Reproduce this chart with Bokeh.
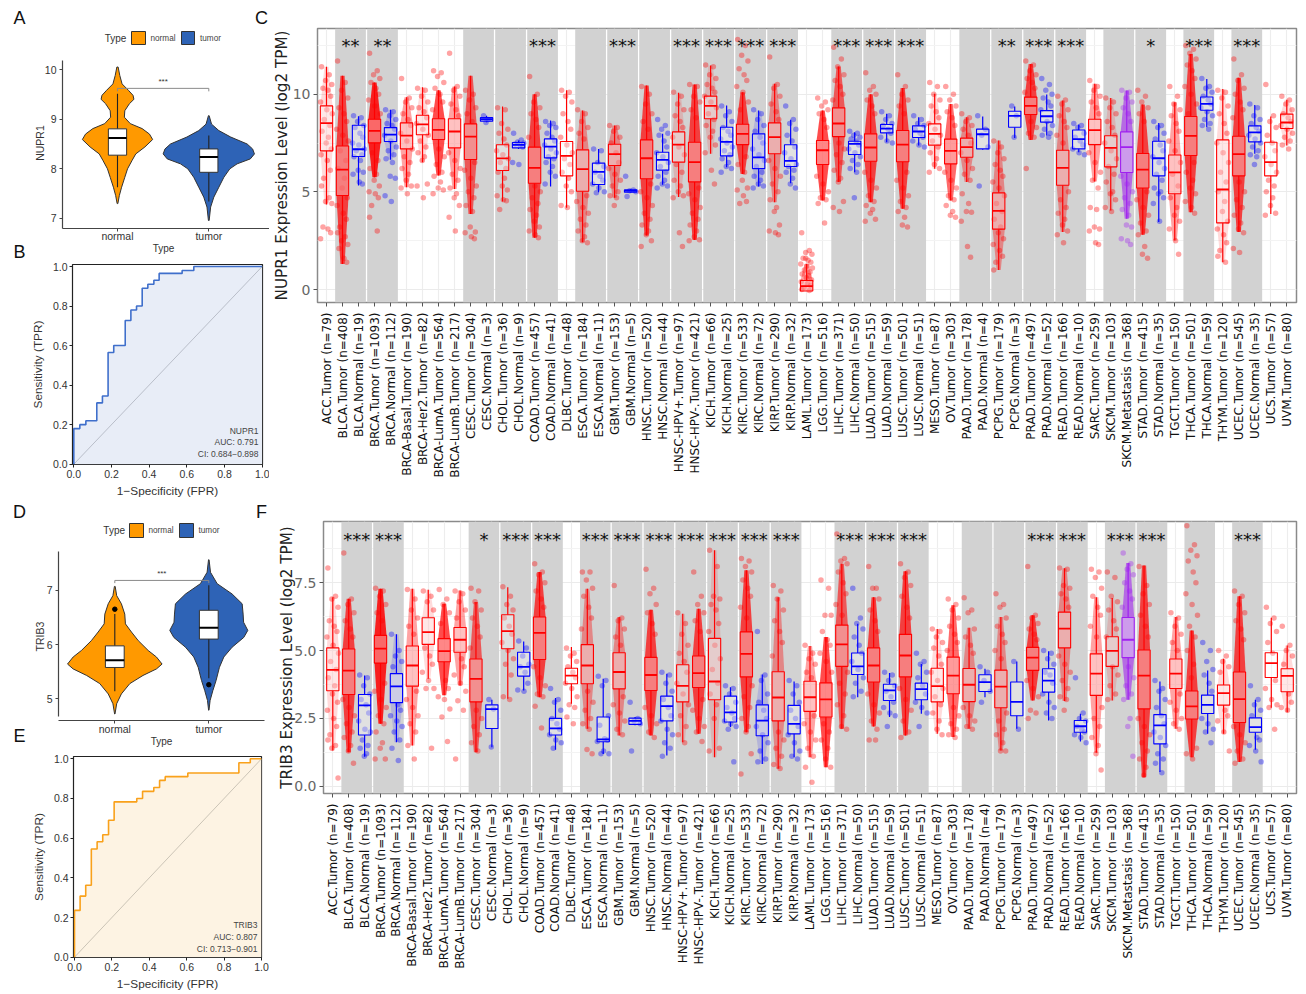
import math
from bokeh.plotting import figure
from bokeh.layouts import row, column
from bokeh.models import Range1d, FixedTicker, Label, PrintfTickFormatter
from bokeh.core.properties import value
from bokeh.embed import file_html
from bokeh.resources import INLINE

# ------------------------------------------------------------------ categories
names = ["ACC.Tumor","BLCA.Tumor","BLCA.Normal","BRCA.Tumor","BRCA.Normal","BRCA-Basal.Tumor","BRCA-Her2.Tumor","BRCA-LumA.Tumor","BRCA-LumB.Tumor","CESC.Tumor","CESC.Normal","CHOL.Tumor","CHOL.Normal","COAD.Tumor","COAD.Normal","DLBC.Tumor","ESCA.Tumor","ESCA.Normal","GBM.Tumor","GBM.Normal","HNSC.Tumor","HNSC.Normal","HNSC-HPV+.Tumor","HNSC-HPV-.Tumor","KICH.Tumor","KICH.Normal","KIRC.Tumor","KIRC.Normal","KIRP.Tumor","KIRP.Normal","LAML.Tumor","LGG.Tumor","LIHC.Tumor","LIHC.Normal","LUAD.Tumor","LUAD.Normal","LUSC.Tumor","LUSC.Normal","MESO.Tumor","OV.Tumor","PAAD.Tumor","PAAD.Normal","PCPG.Tumor","PCPG.Normal","PRAD.Tumor","PRAD.Normal","READ.Tumor","READ.Normal","SARC.Tumor","SKCM.Tumor","SKCM.Metastasis","STAD.Tumor","STAD.Normal","TGCT.Tumor","THCA.Tumor","THCA.Normal","THYM.Tumor","UCEC.Tumor","UCEC.Normal","UCS.Tumor","UVM.Tumor"]
counts = [79,408,19,1093,112,190,82,564,217,304,3,36,9,457,41,48,184,11,153,5,520,44,97,421,66,25,533,72,290,32,173,516,371,50,515,59,501,51,87,303,178,4,179,3,497,52,166,10,259,103,368,415,35,150,501,59,120,545,35,57,80]
band_starts = [1,3,9,11,13,16,18,20,22,24,26,28,32,34,36,40,42,44,46,49,51,54,57]

# ------------------------------------------------------------------ panel C: NUPR1
c_q1  = [7.10,4.81,6.81,7.51,7.58,7.20,7.92,7.68,7.25,6.66,8.62,6.09,7.25,5.44,6.74,5.82,5.03,5.38,6.35,4.98,5.67,6.11,6.52,5.51,8.74,6.84,7.42,6.19,6.95,6.30,-0.08,6.40,7.83,6.91,6.57,8.02,6.54,7.78,7.39,6.43,6.77,7.20,3.09,8.31,8.96,8.57,5.34,7.20,7.42,6.28,5.99,5.20,5.82,4.90,6.86,9.18,3.41,5.82,7.56,5.82,8.24]
c_med = [8.52,6.14,7.18,8.12,7.93,7.88,8.45,8.17,8.09,7.83,8.72,6.71,7.41,6.23,7.32,6.84,6.16,6.02,6.93,5.05,6.72,6.64,7.42,6.52,9.40,7.56,7.97,6.77,7.80,6.59,0.17,7.13,8.50,7.46,7.27,8.24,7.42,8.09,7.97,7.10,7.29,7.95,4.03,8.89,9.40,8.87,6.23,7.70,8.16,7.25,7.29,6.14,6.72,6.00,7.87,9.50,5.12,6.93,8.05,6.52,8.55]
c_q3  = [9.40,7.35,8.41,8.72,8.29,8.53,8.92,8.74,8.74,8.48,8.80,7.41,7.53,7.29,7.71,7.58,7.15,6.47,7.44,5.10,7.66,7.03,8.07,7.54,9.90,8.31,8.46,7.97,8.53,7.41,0.46,7.63,9.30,7.59,7.97,8.45,8.14,8.38,8.48,7.70,7.75,8.21,4.95,9.13,9.85,9.16,7.13,8.17,8.72,7.87,8.07,6.96,7.59,6.89,8.86,9.86,7.66,7.85,8.38,7.54,8.98]
c_lo  = [4.35,1.30,5.32,5.75,6.64,5.24,6.52,5.84,5.15,3.87,8.57,4.50,7.20,2.65,5.27,4.18,2.42,4.98,4.70,4.95,2.76,5.36,4.73,2.54,6.95,6.26,5.92,5.27,4.47,5.44,-0.08,4.56,5.50,6.00,4.47,7.54,4.13,7.37,6.18,4.56,5.50,7.15,1.00,7.76,7.66,7.88,2.94,7.03,5.53,4.04,3.62,2.80,3.45,2.51,3.96,8.31,1.40,2.94,6.95,3.87,7.37]
c_hi  = [11.4,10.95,8.87,10.6,9.20,9.85,10.36,10.2,10.4,10.95,8.90,9.37,7.63,10.0,8.65,10.2,9.16,7.20,8.40,5.15,10.44,7.97,10.07,10.5,11.47,9.42,10.1,9.16,10.53,8.69,1.31,9.16,11.42,8.05,10.0,9.00,10.32,8.82,10.02,9.50,8.82,8.86,7.63,9.37,11.55,9.98,9.68,8.45,10.53,9.81,10.19,9.47,8.53,9.59,12.06,10.78,10.27,10.84,9.45,8.86,9.71]
c_stars = {1:"**",3:"**",13:"***",18:"***",22:"***",24:"***",26:"***",28:"***",32:"***",34:"***",36:"***",42:"**",44:"***",46:"***",51:"*",54:"***",57:"***"}
c_points = [
[11.4,11.0,10.7,10.5,10.3,10.2,9.9,9.6,9.2,9.0,8.7,8.4,8.1,7.8,7.5,7.2,6.9,6.6,6.1,5.7,5.3,4.7,4.5,4.4,3.2,3.1,2.9,2.6],
[11.7,10.6,10.2,9.8,9.3,9.0,8.6,8.2,7.9,7.6,7.1,6.6,6.2,5.7,5.2,4.7,4.3,3.9,3.6,3.2,2.9,2.7,2.5,2.3,2.1,1.6,1.4],
[8.9,8.8,8.6,8.4,8.3,8.0,7.8,7.5,7.4,7.2,7.1,6.9,6.8,6.6,6.1,6.0,5.9,5.5,5.4],
[12.1,11.2,11.0,10.8,10.6,10.3,10.0,9.7,9.4,9.0,7.0,6.6,6.2,5.9,5.6,5.3,5.0,4.9,4.7,4.3,3.7,3.0],
[9.2,9.1,8.9,8.7,8.5,8.4,8.2,7.9,7.6,7.3,7.1,6.9,6.7,6.5,5.8,5.7,4.8,4.5],
[10.8,9.8,9.6,9.3,9.0,8.7,8.4,8.0,7.6,7.2,6.8,6.5,6.2,5.9,5.6,5.3,5.2,4.9],
[10.3,10.2,9.9,9.6,9.3,9.1,8.8,8.5,8.2,7.9,7.6,7.3,7.0,6.8,6.6,5.4,5.3,4.7],
[11.2,11.1,10.9,10.6,10.3,10.0,9.6,9.2,7.2,6.8,6.4,6.0,5.8,5.5,5.2,5.1,4.9],
[12.1,10.4,10.2,9.9,9.5,9.2,8.9,7.0,6.6,6.2,5.9,5.6,5.2,4.9,4.7,4.3,3.7,3.0],
[10.2,10.0,9.7,9.3,9.0,8.6,6.5,6.1,5.7,5.3,5.0,4.7,4.3,4.0,3.2,2.95,2.9,2.7,2.6],
[8.9,8.7,8.55],
[9.3,9.2,8.5,8.2,8.0,7.7,7.4,7.1,6.9,6.7,6.5,6.2,6.0,5.7,5.3,5.1,4.8,4.6,4.55,4.1],
[8.0,7.65,7.55,7.5,7.45,7.4,7.3,6.5,6.4],
[10.9,10.0,9.6,9.3,9.0,8.7,8.3,7.8,5.3,5.0,4.7,4.4,4.1,3.8,3.5,3.2,3.0,2.8,2.65],
[8.6,8.5,8.4,8.3,8.0,7.8,7.6,7.4,7.2,7.0,6.8,6.7,6.5,6.3,6.0,5.8,5.4],
[10.2,10.1,9.9,9.6,9.0,8.6,8.2,7.8,7.4,7.0,6.7,6.4,6.0,5.7,5.3,5.0,4.3,4.2],
[9.2,9.0,8.6,8.3,8.0,7.7,4.8,4.5,4.2,3.9,3.6,3.3,3.0,2.7,2.5,2.4],
[7.2,7.1,6.5,6.3,6.0,5.8,5.6,5.4,5.2,5.0,4.95],
[8.4,8.3,8.1,7.8,7.5,7.0,6.5,6.2,5.9,5.6,5.3,5.0,4.8,4.7,4.3],
[5.8,5.1,5.05,5.0,4.76],
[10.4,10.0,9.5,9.0,8.6,8.2,5.4,5.0,4.7,4.3,3.9,3.6,3.3,3.0,2.8,2.5,2.2],
[8.7,8.4,8.2,8.0,7.9,7.6,7.3,7.0,6.8,6.5,6.3,6.0,5.8,5.6,5.4,5.3,5.2],
[10.1,9.9,9.5,9.2,8.9,8.6,8.3,7.8,7.3,6.9,6.4,6.0,5.6,5.3,5.0,4.8,4.7,2.9,2.2],
[10.5,10.4,9.9,9.6,9.2,8.8,5.2,4.9,4.6,4.2,3.9,3.6,3.3,3.0,2.7,2.55,2.5],
[11.5,11.4,11.0,10.8,10.5,10.3,10.1,9.9,9.6,9.3,9.0,8.7,8.4,8.1,7.8,7.4,7.0,6.1,5.4],
[9.4,9.1,8.9,8.6,8.3,8.1,7.9,7.7,7.5,7.3,7.1,6.9,6.7,6.5,6.3,6.2,6.0],
[12.8,12.5,12.0,11.7,11.3,11.0,10.7,10.4,10.1,9.6,9.2,6.8,6.4,6.0,5.6,5.2,5.1,4.8,4.5,4.4],
[9.2,9.0,8.7,8.4,8.1,7.8,7.5,7.2,6.9,6.6,6.3,6.0,5.8,5.6,5.4,5.3,5.2],
[11.9,10.5,10.3,9.9,9.5,9.1,8.7,6.6,6.2,5.8,5.4,5.0,4.6,4.2,4.0,3.3,3.0,2.9,2.8],
[9.4,8.7,8.5,8.2,7.9,7.6,7.3,7.0,6.7,6.4,6.3,6.1,6.0,5.7,5.4,5.2],
[2.9,2.0,1.9,1.8,1.6,1.5,1.4,1.3,1.2,1.1,1.0,0.9,0.8,0.7,0.6,0.5,0.4,0.3,0.2,0.1,0.0,-0.05,1.6],
[9.8,9.6,9.4,9.2,9.0,8.7,8.3,5.8,5.4,5.0,4.7,4.6,4.4,3.4],
[12.4,11.8,11.4,11.0,10.7,10.4,10.0,9.7,7.5,7.2,6.9,6.5,6.1,5.7,5.5,4.5,4.2,4.0],
[8.1,8.0,7.9,7.8,7.7,7.6,7.4,7.2,7.0,6.8,6.6,6.4,6.2,6.0,4.7],
[11.1,10.4,10.2,10.0,9.7,9.4,9.0,6.0,5.6,5.2,4.8,4.5,4.3,4.1,3.9,3.6,3.5],
[9.1,8.9,8.7,8.5,8.4,8.2,8.0,7.8,7.6,7.5],
[11.0,10.4,10.0,9.7,9.4,9.0,6.0,5.6,5.2,4.8,4.5,4.2,4.0,3.7,3.3,3.2],
[8.9,8.7,8.5,8.4,8.2,8.0,7.8,7.6,7.4,7.3],
[10.6,10.4,10.0,9.7,9.4,9.1,8.8,8.5,8.2,7.9,7.6,7.3,7.0,6.7,6.4,6.2,6.0],
[10.4,10.0,9.7,9.4,9.1,8.8,8.4,6.0,5.6,5.2,4.8,4.6,4.3,4.0,3.8,3.7],
[9.0,8.8,8.6,8.4,8.2,7.9,7.5,7.0,6.6,6.2,5.9,5.6,4.9,4.4,4.0,3.95,3.5,2.2,1.65],
[8.9,8.2,7.9,7.3,5.3],
[7.6,7.3,7.0,6.7,6.4,6.1,5.8,5.5,5.2,4.8,4.4,4.0,3.6,3.2,2.9,2.6,2.3,2.0,1.7,1.4,1.0],
[9.4,8.9,7.8],
[11.7,11.5,11.2,11.0,10.8,10.6,10.3,10.1,8.6,8.3,8.0,7.8,6.2],
[10.8,10.5,10.2,10.0,9.8,9.6,9.4,9.2,8.6,8.4,8.2,8.0,7.9,7.8],
[9.9,9.7,9.5,9.2,8.9,8.6,8.3,7.9,7.5,5.0,4.6,4.2,3.9,3.6,3.3,3.0,2.8,2.4],
[8.5,8.4,8.3,8.0,7.8,7.6,7.4,7.2,7.0,6.9],
[10.7,10.4,10.2,9.9,9.6,9.3,9.0,7.0,6.5,6.0,5.6,5.2,4.2,4.1,3.2,3.1,3.0,2.4,2.3],
[9.8,9.6,9.3,9.0,8.6,8.3,7.9,7.5,7.1,6.7,6.3,5.9,5.5,5.0,4.9,4.6,4.2,4.0],
[10.2,10.1,9.8,9.6,9.3,9.0,8.6,5.8,5.4,5.0,4.7,4.4,4.1,3.8,3.3,3.2,2.6,2.5,2.3],
[10.2,9.9,9.6,9.3,9.0,8.6,5.0,4.6,4.2,3.8,3.4,3.0,2.8,2.2,1.8,1.6],
[8.6,8.4,8.3,8.0,7.7,7.4,7.1,6.8,6.5,6.2,5.9,5.6,5.2,5.0,4.9,4.7,4.4,3.5],
[10.4,9.9,9.5,9.2,8.9,8.5,8.1,7.6,7.1,6.5,5.9,5.3,4.7,4.2,3.8,3.5,3.1,2.5,1.8],
[12.5,12.3,12.1,11.8,11.5,11.2,10.8,10.4,10.0,9.5,9.0,6.5,6.0,5.6,5.2,4.9,4.5,4.2,3.9],
[10.8,10.4,10.3,10.1,9.9,9.7,9.5,9.3,9.1,8.9,8.7,8.5,8.4,8.2],
[10.2,10.1,9.8,9.4,9.0,8.5,8.0,7.5,7.0,6.5,6.0,5.5,5.0,4.5,4.0,3.5,3.1,2.8,2.4,2.0,1.7,1.4],
[11.8,11.0,10.7,10.3,10.0,9.6,9.2,8.8,5.5,5.0,4.6,4.2,3.8,3.4,3.1,2.9,2.1,1.9],
[9.5,9.3,8.9,8.7,8.5,8.3,8.1,7.9,7.7,7.5,7.3,7.1,6.9,6.8,6.4],
[10.5,8.9,8.6,8.3,7.9,7.5,7.1,6.8,6.4,6.0,5.6,5.3,5.0,4.7,4.3,3.9,3.8],
[9.9,9.7,9.5,9.2,9.0,8.8,8.6,8.4,8.2,8.0,7.8,7.6,7.4,7.2],
]

# ------------------------------------------------------------------ panel F: TRIB3
f_q1  = [3.52,3.38,1.89,4.54,3.08,3.69,5.23,4.59,4.94,3.11,2.13,5.07,4.06,4.67,1.89,3.78,3.78,1.64,3.59,2.28,3.53,2.41,3.11,3.64,3.19,2.37,4.03,1.86,2.41,1.93,2.76,2.55,4.42,4.12,3.84,3.16,4.03,3.19,3.11,3.41,3.12,3.49,2.89,2.60,4.27,3.47,5.10,1.99,3.35,4.42,4.74,2.85,1.56,3.60,2.48,2.68,2.99,2.35,1.99,4.01,3.48]
f_med = [4.29,4.26,2.98,5.07,3.68,4.45,5.68,4.98,5.40,3.96,2.84,5.72,4.40,5.65,2.13,4.08,4.45,1.73,4.21,2.41,4.10,2.95,3.70,4.17,3.86,2.72,4.88,2.42,3.27,2.30,3.28,3.20,5.23,4.42,4.45,3.53,4.82,3.58,3.69,4.08,3.74,3.84,3.67,3.11,4.74,3.89,5.81,2.21,4.15,4.99,5.40,4.08,2.24,4.15,2.94,3.00,3.43,3.21,2.18,4.54,4.07]
f_q3  = [5.10,5.06,3.38,5.56,4.15,5.17,6.21,5.44,5.85,4.69,3.00,6.32,4.94,6.24,2.50,4.35,5.22,2.55,4.92,2.51,4.75,3.32,4.48,4.80,5.45,3.32,5.69,3.00,4.22,2.98,3.87,3.81,5.94,4.91,5.10,3.76,5.60,3.80,4.35,4.76,4.34,4.11,4.28,3.84,5.12,4.33,6.42,2.42,4.88,5.51,6.22,5.02,2.64,4.69,3.51,3.36,3.73,4.21,2.52,4.92,4.33]
f_lo  = [1.32,1.25,1.09,2.30,1.62,1.50,3.96,3.35,3.71,1.25,1.44,3.22,3.53,3.28,1.34,3.04,2.12,1.19,1.87,2.25,1.87,1.13,1.62,1.93,1.07,2.18,1.99,0.82,0.64,1.07,1.07,0.70,2.12,3.28,2.20,2.55,1.87,2.67,1.93,1.81,2.12,3.28,1.32,2.12,3.16,2.42,3.14,1.65,1.23,3.16,3.19,0.33,0.52,2.12,1.07,1.93,1.93,0.89,1.34,2.89,2.73]
f_hi  = [6.97,6.91,4.08,7.28,5.60,7.28,7.24,6.73,7.22,6.79,3.19,7.34,5.34,7.90,3.25,5.13,7.28,3.96,6.24,2.55,6.51,4.15,6.36,6.54,8.70,3.65,7.96,4.12,6.97,3.86,5.17,5.50,8.20,5.99,6.97,4.17,7.93,4.51,5.80,6.67,5.84,4.33,6.24,4.60,6.30,4.98,8.04,2.67,6.97,6.94,8.23,8.14,3.86,6.24,5.74,4.27,4.70,7.00,3.19,6.21,5.19]
f_stars = {1:"***",3:"***",9:"*",11:"***",13:"***",16:"***",18:"***",20:"***",22:"***",24:"***",26:"***",28:"***",32:"***",34:"***",36:"***",44:"***",46:"***",49:"***",51:"***",57:"***"}
f_points = [
[8.05,7.0,6.9,6.6,6.1,5.9,5.7,5.5,5.2,4.9,4.6,4.3,4.0,3.7,3.4,3.1,2.8,2.5,2.2,1.9,1.7,1.5,1.4,0.3],
[8.6,6.9,6.7,6.4,6.1,5.8,5.5,3.2,2.9,2.6,2.3,2.0,1.8,1.5,1.3,0.85],
[4.1,4.0,3.7,3.4,3.2,3.0,2.7,2.4,2.1,2.0,1.7,1.5,1.4,1.2,1.1],
[7.3,7.2,7.0,6.7,6.4,6.1,3.8,3.5,3.2,2.9,2.6,2.3,2.0,1.6,1.4,1.0,1.0],
[5.6,5.0,4.8,4.6,4.4,3.0,2.8,2.6,2.4,2.2,2.0,1.7,1.4,0.95],
[7.25,6.9,6.5,6.2,5.9,5.6,3.5,3.2,2.9,2.6,2.3,2.0,1.5,1.0],
[7.2,7.0,6.8,6.5,5.1,4.8,4.5,4.2,3.9,3.6,3.6,1.4],
[7.25,6.9,6.7,6.4,6.0,3.9,3.6,3.3,3.2,2.85,2.55,1.65],
[7.2,7.1,6.8,6.5,6.2,4.7,4.4,4.1,3.8,3.5,3.15,2.8,1.0],
[7.3,7.2,6.8,6.5,6.2,5.9,5.5,5.1,2.8,2.5,2.2,1.9,1.6,1.3],
[3.2,2.85,1.45],
[7.35,7.0,6.7,6.5,6.2,5.9,5.6,5.3,5.0,4.7,4.5,4.1,3.3,3.2],
[5.35,5.1,4.8,4.5,4.4,4.2,3.8,3.55,3.5],
[8.2,7.9,7.8,7.5,7.2,6.9,6.6,4.4,4.0,3.7,3.4,3.3,2.95,2.15],
[3.6,3.2,3.1,2.8,2.5,2.3,2.1,1.9,1.7,1.6,1.4],
[5.1,4.9,4.8,4.6,4.4,4.2,4.0,3.8,3.6,3.3,3.0,2.9,2.55,2.3],
[7.9,7.9,7.6,7.3,7.0,6.6,6.2,5.8,3.5,3.1,2.8,2.5,2.3,2.1,1.35,1.2],
[4.05,3.9,3.7,2.6,2.25,1.75,1.7,1.65,1.3,1.2,1.2],
[7.4,6.2,6.1,5.8,5.5,5.2,3.3,3.0,2.7,2.4,2.1,1.9],
[3.1,2.5,2.4,2.3,1.3],
[8.0,7.3,7.1,6.7,6.4,6.0,5.6,2.9,2.6,2.3,2.0,1.8],
[4.2,4.1,3.8,3.5,3.2,2.9,2.6,2.4,2.1,1.9,1.6,1.4,1.1],
[6.4,6.0,5.6,5.2,4.9,4.6,4.2,3.8,3.4,3.0,2.6,2.2,1.9,1.6],
[7.9,7.0,6.7,6.4,6.1,5.7,3.2,2.8,2.5,2.2,2.0,1.65],
[8.7,8.1,7.0,6.9,6.7,6.5,6.0,5.7,5.2,4.7,4.3,3.8,3.4,3.0,2.5,1.4,1.3],
[3.7,3.6,3.4,3.1,2.9,2.7,2.5,2.4,2.3,2.2,2.1,0.9],
[8.4,8.3,8.1,7.9,7.6,7.3,7.0,6.6,6.2,3.7,3.3,2.9,2.5,2.2,2.0,1.2,0.45],
[5.7,4.1,3.9,3.4,3.1,2.8,2.5,2.2,1.9,1.6,1.3,1.0,0.9],
[7.4,7.2,6.9,6.5,6.1,5.7,5.3,4.8,2.0,1.7,1.4,1.1,0.8,0.65],
[3.9,3.7,3.4,3.1,2.8,2.5,2.2,1.9,1.6,1.3,1.1,1.0],
[5.2,4.9,4.7,4.5,4.2,4.0,2.6,2.3,2.0,1.7,1.4,1.1,0.7,0.15],
[7.6,7.3,6.3,6.3,5.7,5.4,5.2,4.9,4.6,4.2,2.3,2.0,1.7,1.4,1.0,0.7],
[9.3,8.4,8.3,8.2,7.9,7.5,7.1,6.7,6.3,4.2,3.8,3.4,3.0,2.6,2.2,2.1],
[7.3,6.2,6.0,5.8,5.5,5.2,4.9,4.6,4.3,4.0,3.8,3.5,3.3],
[8.1,7.3,7.3,6.9,6.5,6.1,5.7,3.4,3.0,2.7,2.4,2.1,1.7,1.7],
[4.2,4.1,3.9,3.7,3.5,3.3,3.1,2.9,2.7,2.6,2.2],
[8.2,7.9,7.7,7.4,7.0,6.6,6.2,3.6,3.2,2.8,2.4,2.0,1.8],
[4.9,4.6,4.5,4.2,4.0,3.7,3.4,3.1,2.9,2.7,2.2],
[5.8,5.7,5.5,5.3,5.1,4.8,4.5,4.2,3.9,3.6,3.3,3.0,2.7,2.4,2.1,1.9],
[6.9,6.7,6.5,6.2,5.9,5.6,5.3,5.0,2.9,2.6,2.3,2.1,1.9,1.8],
[6.95,6.5,6.4,5.8,5.5,5.2,4.9,2.9,2.6,2.4,2.2,2.1],
[4.4,4.2,3.9,3.5,3.1],
[7.1,6.7,6.6,6.2,5.9,5.6,5.3,5.0,4.7,2.7,2.4,2.1,1.9,1.6,1.3,1.3],
[4.6,2.1],
[8.1,6.3,6.2,6.0,5.8,5.6,5.4,3.9,3.6,3.3,2.8,2.7,2.5],
[5.0,4.9,4.7,4.5,4.2,4.1,3.8,3.4,3.1,2.9,2.7,2.5],
[8.05,8.0,7.4,7.3,7.1,6.9,6.6,4.8,4.5,4.2,3.9,3.6,3.3,3.2,2.8],
[4.0,2.7,2.5,2.4,2.2,2.1,2.0,1.9,1.8,1.6],
[8.0,7.9,7.7,7.3,7.0,6.6,6.3,5.9,5.5,2.9,2.5,2.2,1.8,1.5,1.2,0.6],
[7.9,7.7,7.0,6.8,6.5,6.1,5.8,5.5,4.4,4.1,3.7,3.4,3.2],
[8.6,8.2,8.0,7.8,7.5,7.2,6.9,6.6,4.4,4.0,3.7,3.4,3.2,2.5,2.2,1.1],
[8.1,7.4,7.1,6.7,6.3,5.9,5.5,2.5,2.2,1.9,1.6,1.3,1.0,0.7,0.4],
[3.9,3.6,3.5,3.2,2.9,2.6,2.3,2.0,1.8,1.5,1.2,1.0,0.85,0.5],
[6.4,6.2,5.9,5.6,5.3,5.0,3.4,3.1,2.8,2.5,2.3,2.1],
[9.6,8.9,8.7,8.5,8.3,7.9,7.5,7.1,6.7,6.3,5.9,5.5,5.0,4.5,4.0,1.4,1.2,1.0],
[5.3,5.0,4.6,4.3,4.1,3.8,3.5,2.5,2.3,2.1,2.0,1.6],
[5.0,4.8,4.6,4.4,4.2,2.8,2.6,2.4,2.0,1.3],
[7.2,7.0,6.7,6.4,6.1,5.8,5.4,2.2,1.9,1.6,1.3,1.0,0.85],
[3.7,3.2,3.0,2.8,2.6,1.8,1.7,1.5,1.3,0.9],
[6.6,6.2,6.0,5.7,5.3,4.9,3.9,3.6,3.2,3.0,2.9,2.1],
[5.9,5.2,5.0,4.8,4.5,3.4,3.1,2.9,2.8],
]

# ------------------------------------------------------------------ violins
a_norm_y  = [10.05,9.88,9.71,9.58,9.48,9.40,9.31,9.17,9.04,8.91,8.81,8.70,8.59,8.44,8.30,8.17,8.00,7.83,7.63,7.46,7.30]
a_norm_hw = [0.007,0.025,0.05,0.12,0.17,0.18,0.13,0.08,0.075,0.14,0.27,0.35,0.385,0.30,0.20,0.16,0.11,0.08,0.045,0.02,0.004]
a_tum_y   = [9.07,8.90,8.77,8.64,8.50,8.40,8.30,8.20,8.10,8.00,7.83,7.63,7.43,7.23,6.96]
a_tum_hw  = [0.004,0.03,0.11,0.24,0.42,0.48,0.50,0.455,0.31,0.23,0.165,0.11,0.055,0.02,0.004]
a_box = {"q1":[8.275,7.93],"med":[8.62,8.24],"q3":[8.805,8.40],"lo":[7.63,7.34],"hi":[9.51,8.67]}
d_norm_y  = [7.07,6.90,6.75,6.56,6.38,6.23,6.07,5.89,5.77,5.64,5.55,5.43,5.28,5.09,4.91,4.72]
d_norm_hw = [0.004,0.02,0.07,0.106,0.113,0.177,0.25,0.355,0.443,0.503,0.443,0.30,0.16,0.07,0.02,0.002]
d_tum_y   = [7.56,7.33,7.12,6.93,6.75,6.56,6.41,6.26,6.13,5.95,5.77,5.58,5.34,5.15,4.97,4.79]
d_tum_hw  = [0.003,0.018,0.089,0.248,0.355,0.365,0.37,0.415,0.372,0.248,0.16,0.113,0.078,0.043,0.014,0.002]
d_box = {"q1":[5.577,6.10],"med":[5.71,6.31],"q3":[5.975,6.63],"lo":[5.14,5.38],"hi":[6.56,7.09]}
d_outliers_x = [1,2]
d_outliers_y = [6.65,5.26]

# ------------------------------------------------------------------ ROC curves
b_fpr = [0,0,0.032,0.064,0.122,0.152,0.182,0.212,0.273,0.303,0.333,0.363,0.393,0.425,0.453,0.575,0.637,1.0]
b_tpr = [0,0.18,0.20,0.22,0.31,0.345,0.565,0.60,0.727,0.78,0.80,0.89,0.91,0.93,0.965,0.98,1.0,1.0]
e_fpr = [0,0,0.03,0.06,0.09,0.121,0.151,0.182,0.212,0.333,0.364,0.424,0.455,0.485,0.606,0.879,0.94,1.0]
e_tpr = [0,0.236,0.308,0.363,0.545,0.582,0.617,0.69,0.783,0.80,0.836,0.855,0.891,0.91,0.928,0.98,1.0,1.0]

ORANGE, BLUE = "#FF9900", "#2E63B6"
SANS, DEJAVU = "Liberation Sans", "DejaVu Sans"
JITTER = [-.31,.17,-.06,.33,-.22,.09,.26,-.37,.02,.36,-.14,.21,-.28,.12,-.02,.30,-.34,.05,.24,-.18]
COL = 269  # width of the left column


def make(fig, frame, xc, yc):
    """fig/frame: l,t,r,b in page pixels. xc/yc: (pixel, value, pixel, value)."""
    l, t, r, b = fig
    fl, ft, fr, fb = frame
    X = lambda px: xc[1] + (px - xc[0]) * (xc[3] - xc[1]) / (xc[2] - xc[0])
    Y = lambda py: yc[1] + (py - yc[0]) * (yc[3] - yc[1]) / (yc[2] - yc[0])
    p = figure(width=r - l, height=b - t, x_range=Range1d(X(fl), X(fr)), y_range=Range1d(Y(fb), Y(ft)),
               min_border_left=fl - l, min_border_right=r - fr, min_border_top=ft - t, min_border_bottom=b - fb,
               toolbar_location=None, tools="", output_backend="svg", frame_align=False)
    return p, X, Y


def text(p, x, y, s, size, font=SANS, color="#333333", align="center", angle=0):
    p.add_layout(Label(x=x, y=y, text=s, text_font=font, text_font_size=f"{size}px", text_color=color,
                       text_align=align, text_baseline="middle", angle=angle))


def main_panel(fig, frame, xc, yc, q1, med, q3, lo, hi, pts, stars, star_y, yticks, yminor, ylabel, lab_standoff, fmt):
    p, X, Y = make(fig, frame, xc, yc)
    n = len(names)
    idx = list(range(n))
    colors = ["#a020f0" if "Metastasis" in s else ("#0000ff" if "Normal" in s else "#ff0000") for s in names]
    p.outline_line_color = "#8a8a8a"
    p.outline_line_width = 1.5
    p.xgrid.ticker = FixedTicker(ticks=idx)
    p.xgrid.grid_line_color = "#ededed"
    p.xgrid.grid_line_width = 1.2
    p.ygrid.ticker = FixedTicker(ticks=yticks, minor_ticks=yminor)
    p.ygrid.grid_line_color = "#ebebeb"
    p.ygrid.grid_line_width = 1.2
    p.ygrid.minor_grid_line_color = "#f3f3f3"
    p.ygrid.minor_grid_line_width = 1
    p.xaxis.ticker = FixedTicker(ticks=idx)
    p.xaxis.major_label_overrides = {i: f"{names[i]} (n={counts[i]})" for i in idx}
    p.xaxis.major_label_orientation = math.pi / 2
    p.xaxis.major_label_text_font = DEJAVU
    p.xaxis.major_label_text_font_size = "12px"
    p.xaxis.major_label_text_color = "#111111"
    p.xaxis.major_label_standoff = 6
    p.yaxis.ticker = FixedTicker(ticks=yticks)
    p.yaxis.formatter = PrintfTickFormatter(format=fmt)
    p.yaxis.major_label_text_font = DEJAVU
    p.yaxis.major_label_text_font_size = "14px"
    p.yaxis.major_label_text_color = "#666666"
    p.yaxis.major_label_standoff = 3
    p.yaxis.major_label_orientation = "horizontal"
    p.yaxis.axis_label = ylabel
    p.yaxis.axis_label_text_font = DEJAVU
    p.yaxis.axis_label_text_font_style = "normal"
    p.yaxis.axis_label_text_font_size = "15.2px"
    p.yaxis.axis_label_text_color = "#222222"
    p.yaxis.axis_label_standoff = lab_standoff
    for ax in (p.xaxis, p.yaxis):
        ax.axis_line_color = None
        ax.major_tick_line_color = "#555555"
        ax.major_tick_out = 4
        ax.major_tick_in = 0
        ax.minor_tick_line_color = None
    # grey bands behind significant tumour/normal pairs
    p.quad(left=[i - 0.46 for i in band_starts], right=[i + 1.46 for i in band_starts],
           bottom=p.y_range.start, top=p.y_range.end, fill_color="#d2d2d2", line_color=None)
    # dense parts of the clouds, where single dots merge: narrow at the whisker ends, wide at the box
    big = [i for i in idx if counts[i] >= 60]
    def dens(k):
        c = counts[k]
        return .85 if c >= 1000 else .70 if c >= 400 else .58 if c >= 300 else .36 if c >= 150 else .14
    p.patches([[i - .13, i - .38, i - .38, i - .13, i + .13, i + .38, i + .38, i + .13] for i in big],
              [[lo[i], q1[i], q3[i], hi[i], hi[i], q3[i], q1[i], lo[i]] for i in big],
              fill_color=[colors[i] for i in big], fill_alpha=[dens(i) for i in big], line_color=None)
    xs, ys, cs = [], [], []
    for i, vals in enumerate(pts):
        for k, v in enumerate(vals):
            xs.append(i + JITTER[k % len(JITTER)] * (1.0 if len(vals) > 3 else 0.6))
            ys.append(v)
            cs.append(colors[i])
    p.scatter(xs, ys, size=5.5, fill_color=cs, fill_alpha=0.36, line_color=None)
    # boxes
    p.segment(idx, lo, idx, q1, line_color=colors, line_width=1.2)
    p.segment(idx, q3, idx, hi, line_color=colors, line_width=1.2)
    p.quad(left=[i - .385 for i in idx], right=[i + .385 for i in idx], bottom=q1, top=q3,
           fill_color="white", fill_alpha=0.33, line_color=colors, line_width=1.1)
    p.segment([i - .385 for i in idx], med, [i + .385 for i in idx], med, line_color=colors, line_width=1.8)
    # significance stars
    sk = list(stars)
    p.text(x=[k + .5 for k in sk], y=[star_y] * len(sk), text=[stars[k] for k in sk], text_font=value(DEJAVU),
           text_font_size="18px", text_align="center", text_baseline="middle", text_color="#111111")
    return p


def violin_panel(fig, xc, yc, axis_px, prof, box, yticks, ybounds, xbounds, xstandoff, ylabel, ylab_y, bracket, legend_px, letters, titles_px):
    # the frame fills the whole figure, so the titles and panel letters can sit anywhere; the axes are pinned to their place
    p, X, Y = make(fig, fig, xc, yc)
    p.outline_line_color = None
    p.grid.grid_line_color = None
    p.xaxis.ticker = FixedTicker(ticks=[1, 2])
    p.xaxis.major_label_overrides = {1: "normal", 2: "tumor"}
    p.xaxis.fixed_location = Y(axis_px[1])
    p.yaxis.fixed_location = X(axis_px[0])
    p.yaxis.ticker = FixedTicker(ticks=yticks)
    p.yaxis.bounds = ybounds
    p.xaxis.bounds = xbounds
    for ax in (p.xaxis, p.yaxis):
        ax.axis_line_color = "#444444"
        ax.axis_line_width = 1.2
        ax.major_tick_line_color = "#444444"
        ax.major_tick_out = 3
        ax.major_tick_in = 0
        ax.minor_tick_line_color = None
        ax.major_label_text_font = SANS
        ax.major_label_text_font_size = "10.5px"
        ax.major_label_text_color = "#333333"
        ax.major_label_standoff = 3
    p.xaxis.major_label_standoff = xstandoff
    for c, col, (vy, hw) in zip([1, 2], [ORANGE, BLUE], prof):
        p.patch([c - h for h in hw] + [c + h for h in reversed(hw)], vy + list(reversed(vy)),
                fill_color=col, line_color="#333333", line_width=1)
    # bracket
    by, drop, star_dy = bracket
    p.line([1, 1, 2, 2], [by - drop, by, by, by - drop], line_color="#8a8a8a", line_width=1)
    text(p, 1.5, by + star_dy, "***", 8, SANS, "#333333")
    # boxes
    cx = [1, 2]
    p.segment(cx, box["lo"], cx, box["hi"], line_color="#222222", line_width=1.1)
    p.quad(left=[c - .1 for c in cx], right=[c + .1 for c in cx], bottom=box["q1"], top=box["q3"],
           fill_color="white", line_color="#333333", line_width=1)
    p.segment([c - .1 for c in cx], box["med"], [c + .1 for c in cx], box["med"], line_color="black", line_width=2)
    # legend
    ty, sw1, t1, sw2, t2, tx, sy0, sy1 = legend_px
    text(p, X(tx), Y(ty), "Type", 10)
    for (a, b), col in zip((sw1, sw2), (ORANGE, BLUE)):
        p.quad(left=[X(a)], right=[X(b)], top=[Y(sy0)], bottom=[Y(sy1)], fill_color=col, line_color="#333333", line_width=1)
    text(p, X(t1), Y(ty), "normal", 8.2, align="left", color="#444444")
    text(p, X(t2), Y(ty), "tumor", 8.2, align="left", color="#444444")
    # titles and panel letters
    ylab_x, xlab_x, xlab_y = titles_px
    text(p, X(ylab_x), Y(ylab_y), ylabel, 10.5, angle=math.pi / 2)
    text(p, X(xlab_x), Y(xlab_y), "Type", 10)
    for s, lx, ly in letters:
        text(p, X(lx), Y(ly), s, 18, SANS, "#111111")
    return p


def roc_panel(fig, frame, xc, yc, fpr, tpr, line, fill, diag, lines_txt, ylab_standoff, xlab_standoff):
    p, X, Y = make(fig, frame, xc, yc)
    p.outline_line_color = "#222222"
    p.outline_line_width = 1.2
    p.grid.grid_line_color = None
    ticks = [0, .2, .4, .6, .8, 1.0]
    p.yaxis.axis_label = "Sensitivity (TPR)"
    p.xaxis.axis_label = "1\u2212Specificity (FPR)"
    p.yaxis.axis_label_standoff = ylab_standoff
    p.xaxis.axis_label_standoff = xlab_standoff
    for ax in (p.xaxis, p.yaxis):
        ax.ticker = FixedTicker(ticks=ticks)
        ax.formatter = PrintfTickFormatter(format="%.1f")
        ax.axis_line_color = None
        ax.major_tick_line_color = "#222222"
        ax.major_tick_out = 3
        ax.major_tick_in = 0
        ax.minor_tick_line_color = None
        ax.major_label_text_font = SANS
        ax.major_label_text_font_size = "10.5px"
        ax.major_label_text_color = "#333333"
        ax.major_label_standoff = 2
        ax.axis_label_text_font = SANS
        ax.axis_label_text_font_style = "normal"
        ax.axis_label_text_font_size = "11.8px"
        ax.axis_label_text_color = "#333333"
    p.varea_step(x=fpr, y1=[0] * len(fpr), y2=tpr, step_mode="after", fill_color=fill)
    p.line([0, 1], [0, 1], line_color=diag, line_width=1)
    p.step(x=fpr, y=tpr, mode="after", line_color=line, line_width=1.6)
    for s, yv in lines_txt:
        text(p, X(frame[2] - 4), yv, s, 8.5, align="right", color="#444444")
    return p


a = violin_panel((0, 0, COL, 262), (117, 1, 208.3, 2), (168.33, 8, 69, 10), (62, 228),
                 [(a_norm_y, a_norm_hw), (a_tum_y, a_tum_hw)], a_box, [7, 8, 9, 10], (6.8, 10.18), (0.4, 2.67), -2,
                 "NUPR1", 142.5, (9.62, 0.06, 0.14),
                 (38, (131, 145), 150, (181, 194), 199.5, 115, 31, 44),
                 [("A", 19, 17), ("C", 261, 17), ("B", 19, 251)], (39, 163, 248))
b = roc_panel((0, 262, COL, 500), (72, 264, 262, 467), (73.3, 0, 261.7, 1), (466.7, 0, 266, 1), b_fpr, b_tpr,
              "#3F6FCB", "#E8EDF7", "#B9BEC9",
              [("NUPR1", .17), ("AUC: 0.791", .11), ("CI: 0.684\u22120.898", .05)], 5, 3)
d = violin_panel((0, 500, COL, 750), (114.3, 1, 208.3, 2), (698.3, 5, 589.7, 7), (58, 720),
                 [(d_norm_y, d_norm_hw), (d_tum_y, d_tum_hw)], d_box, [5, 6, 7], (4.67, 7.72), (0.404, 2.596), -1,
                 "TRIB3", 636, (7.18, 0.05, 0.12),
                 (530, (129, 143), 148, (179, 193), 198, 113.7, 523, 537),
                 [("D", 19, 511), ("F", 261, 511), ("E", 19, 735)], (39, 161, 741))
d.scatter(d_outliers_x, d_outliers_y, size=4.5, fill_color="black", line_color="black")
e = roc_panel((0, 750, COL, 993), (73, 756, 261, 958), (74, 0, 261, 1), (957.7, 0, 758.3, 1), e_fpr, e_tpr,
              "#F9A11B", "#FDF3E3", "#CBC4B6",
              [("TRIB3", .164), ("AUC: 0.807", .104), ("CI: 0.713\u22120.901", .043)], 5, 3)
c = main_panel((COL, 0, 1304, 510), (317, 28, 1296, 302), (326, 0, 1286.3, 60), (289, 0, 93.7, 10),
               c_q1, c_med, c_q3, c_lo, c_hi, c_points, c_stars, 12.5, [0, 5, 10], [2.5, 7.5, 12.5],
               "NUPR1 Expression Level (log2 TPM)", -1, "%d")
f = main_panel((COL, 510, 1304, 993), (323, 521, 1296, 793), (332.3, 0, 1286.7, 60), (785.7, 0, 582.3, 7.5),
               f_q1, f_med, f_q3, f_lo, f_hi, f_points, f_stars, 9.1, [0, 2.5, 5, 7.5], [1.25, 3.75, 6.25, 8.75],
               "TRIB3 Expression Level (log2 TPM)", -5, "%.1f")

page = row(column(a, b, d, e), column(c, f))
open("out.html", "w").write(file_html(page, INLINE))
